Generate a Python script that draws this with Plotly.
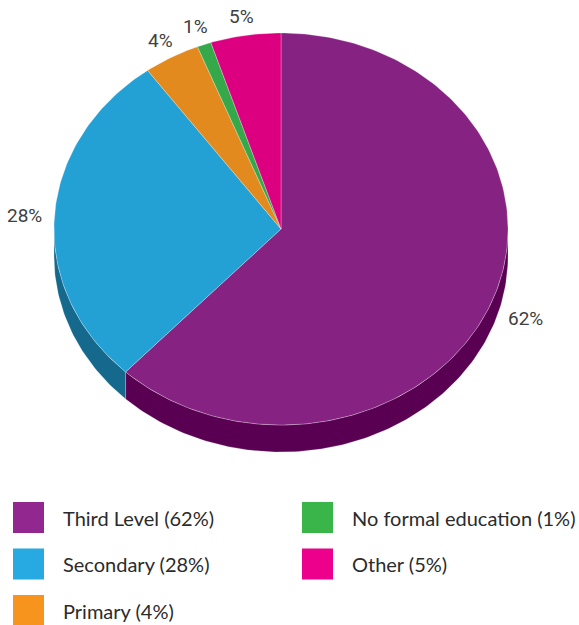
import numpy as np
import plotly.graph_objects as go

# Education level shares (%)
categories = ["Third Level", "Secondary", "Primary", "No formal education", "Other"]
values = [62, 28, 4, 1, 5]
label_texts = ["62%", "28%", "4%", "1%", "5%"]

# Slice styles
top_colors = ["#862281", "#23a0d4", "#e38a1f", "#35a849", "#dc0080"]
side_colors = ["#590052", "#15698c", "#9a5c12", "#217030", "#93005a"]
legend_colors = ["#92278f", "#27aae1", "#f7941d", "#39b54a", "#ec008c"]

W, H = 579, 625
cx, cy = 281.0, 229.0      # centre of the top face
rx, ry = 227.0, 196.0      # radii of the tilted disc
depth = 27.0               # thickness of the disc

fig = go.Figure()


def ellipse_pts(a0, a1, dy=0.0, n=None):
    if n is None:
        n = max(4, int(abs(a1 - a0) / 1.0) + 2)
    t = np.radians(np.linspace(a0, a1, n))
    return cx + rx * np.cos(t), cy - ry * np.sin(t) + dy


total = float(sum(values))
cum = np.concatenate([[0.0], np.cumsum(values)]) / total
# angles in degrees, starting at 12 o'clock and going clockwise
a_start = 90.0 - 360.0 * cum[:-1]
a_end = 90.0 - 360.0 * cum[1:]

# side walls (front half of the disc only)
for i in range(len(values)):
    lo = max(a_end[i], -180.0)
    hi = min(a_start[i], 0.0)
    if hi <= lo:
        continue
    xt, yt = ellipse_pts(hi, lo)
    xb, yb = ellipse_pts(lo, hi, dy=depth)
    xs = np.concatenate([xt, xb, xt[:1]])
    ys = np.concatenate([yt, yb, yt[:1]])
    fig.add_trace(go.Scatter(
        x=xs, y=ys, mode="lines", fill="toself",
        fillcolor=side_colors[i],
        line=dict(color="rgba(255,255,255,0.35)", width=0.6),
        hoverinfo="skip", showlegend=False,
    ))

# top faces
for i in range(len(values)):
    xa, ya = ellipse_pts(a_start[i], a_end[i])
    xs = np.concatenate([[cx], xa, [cx]])
    ys = np.concatenate([[cy], ya, [cy]])
    fig.add_trace(go.Scatter(
        x=xs, y=ys, mode="lines", fill="toself",
        fillcolor=top_colors[i],
        line=dict(color="rgba(255,255,255,0.45)", width=0.6),
        hoverinfo="skip", showlegend=False, name=categories[i],
    ))

# percentage labels placed outside each slice's mid-angle
pad = 12.0
for i in range(len(values)):
    am = np.radians((a_start[i] + a_end[i]) / 2.0)
    c, s = np.cos(am), np.sin(am)
    hw = 6.0 * len(label_texts[i])
    hh = 7.0
    px = cx + (rx + pad) * c + hw * c
    py = cy - (ry + pad) * s - hh * s
    if s < 0:
        py += depth * (-s)
        px += depth * (-s) * c * 0.6
    fig.add_annotation(
        x=px, y=py, text=label_texts[i], showarrow=False,
        xanchor="center", yanchor="middle",
        font=dict(family="Roboto", size=19, color="#404040", weight=400),
    )

# legend: 3 rows, filled column by column
sq = 31.0
col_x = [13.0, 302.0]
row_y0 = 502.0
row_step = 46.5
n_rows = 3
for i, name in enumerate(categories):
    col, row = divmod(i, n_rows)
    x0 = col_x[col]
    y0 = row_y0 + row * row_step
    fig.add_shape(type="rect", x0=x0, x1=x0 + sq, y0=y0, y1=y0 + sq,
                  fillcolor=legend_colors[i], line=dict(width=0), layer="above")
    fig.add_annotation(
        x=x0 + 48, y=y0 + sq / 2.0, text=f"{name} ({values[i]}%)",
        showarrow=False, xanchor="left", yanchor="middle",
        font=dict(family="Lato", size=20, color="#2b2b2b"),
    )

fig.update_layout(
    width=W, height=H,
    margin=dict(l=0, r=0, t=0, b=0),
    paper_bgcolor="white", plot_bgcolor="white",
    xaxis=dict(range=[0, W], visible=False, fixedrange=True),
    yaxis=dict(range=[H, 0], visible=False, fixedrange=True),
    showlegend=False,
)

fig.write_html("out.html")
